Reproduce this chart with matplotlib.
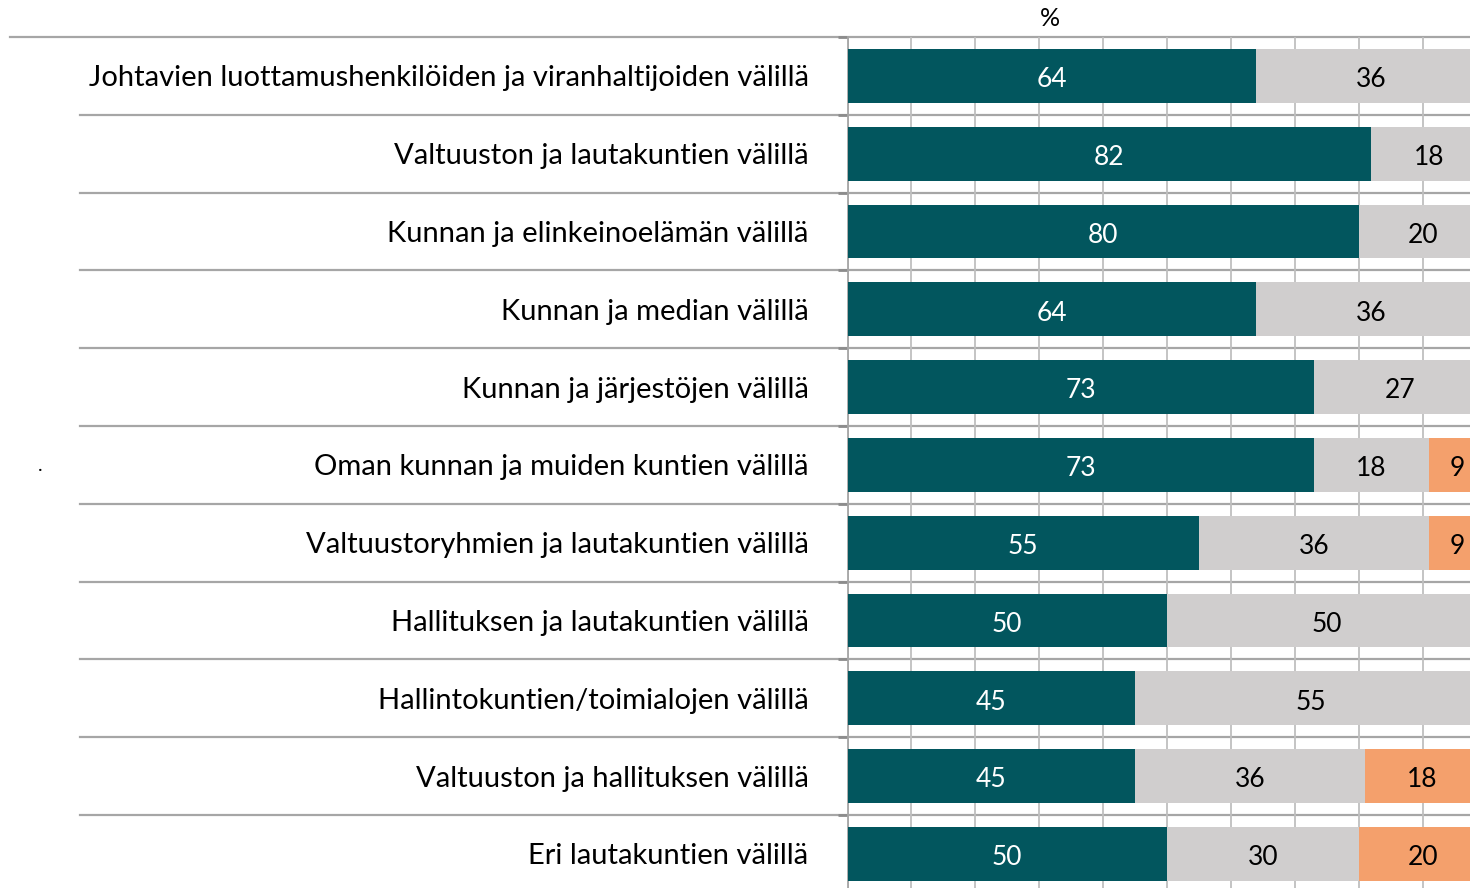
import matplotlib
matplotlib.use("Agg")
import matplotlib.pyplot as plt
from matplotlib.ticker import MultipleLocator, FixedLocator

categories = [
    "Johtavien luottamushenkilöiden ja viranhaltijoiden välillä",
    "Valtuuston ja lautakuntien välillä",
    "Kunnan ja elinkeinoelämän välillä",
    "Kunnan ja median välillä",
    "Kunnan ja järjestöjen välillä",
    "Oman kunnan ja muiden kuntien välillä",
    "Valtuustoryhmien ja lautakuntien välillä",
    "Hallituksen ja lautakuntien välillä",
    "Hallintokuntien/toimialojen välillä",
    "Valtuuston ja hallituksen välillä",
    "Eri lautakuntien välillä",
]
series1 = [64, 82, 80, 64, 73, 73, 55, 50, 45, 45, 50]
series2 = [36, 18, 20, 36, 27, 18, 36, 50, 55, 36, 30]
series3 = [0, 0, 0, 0, 0, 9, 9, 0, 0, 18, 20]

colors = ["#02565E", "#D0CECE", "#F4A06C"]
text_colors = ["white", "black", "black"]
font = ["Lato", "DejaVu Sans"]
plt.rcParams["font.family"] = font

W, H = 1470, 888
fig = plt.figure(figsize=(W / 100, H / 100), dpi=100)
left_px, top_px, right_px = 847.5, 37.0, 1470
row = 77.8
n = len(categories)
bottom_px = top_px + row * n
ax = fig.add_axes([left_px / W, 1 - bottom_px / H, (right_px - left_px) / W, (bottom_px - top_px) / H])

y = list(range(n))
lefts = [0] * n
for vals, c, tc in zip([series1, series2, series3], colors, text_colors):
    ax.barh(y, vals, left=lefts, height=0.69, color=c, zorder=3)
    for yi, v, l in zip(y, vals, lefts):
        if v > 0:
            ax.text(l + v / 2, yi + 0.05, str(v), ha="center", va="center",
                    color=tc, fontsize=19, zorder=4)
    lefts = [a + b for a, b in zip(lefts, vals)]

px_per_unit = 6.39
ax.set_xlim(0, (right_px - left_px) / px_per_unit)
ax.set_ylim(n - 0.5, -0.5)

ax.xaxis.set_major_locator(MultipleLocator(10))
ax.tick_params(axis="x", length=0, labelbottom=False)
ax.grid(axis="x", color="#BFBFBF", linewidth=1.3, zorder=0)

ax.set_yticks(y)
ax.set_yticklabels(categories, fontsize=21)
ax.tick_params(axis="y", which="major", length=0, pad=28)
ax.yaxis.set_minor_locator(FixedLocator([i - 0.5 for i in range(n + 1)]))
ax.tick_params(axis="y", which="minor", length=7, width=2, color="#8C8C8C")
for lbl in ax.get_yticklabels():
    lbl.set_y(lbl.get_position()[1])

for s in ["top", "right", "bottom"]:
    ax.spines[s].set_visible(False)
ax.spines["left"].set_color("#A6A6A6")
ax.spines["left"].set_linewidth(1.3)

trans = ax.get_yaxis_transform()
axw = right_px - left_px
for i in range(n + 1):
    yb = i - 0.5
    x0 = (10 - left_px) / axw if i == 0 else (80 - left_px) / axw
    ax.plot([x0, 1], [yb, yb], transform=trans, color="#A6A6A6", linewidth=1.6,
            clip_on=False, zorder=1)

fig.text(1050 / W, 1 - 18 / H, "%", ha="center", va="center", fontsize=18)
fig.text(40 / W, 1 - 465 / H, ".", ha="center", va="center", fontsize=14)

fig.savefig("out.png", dpi=100)
